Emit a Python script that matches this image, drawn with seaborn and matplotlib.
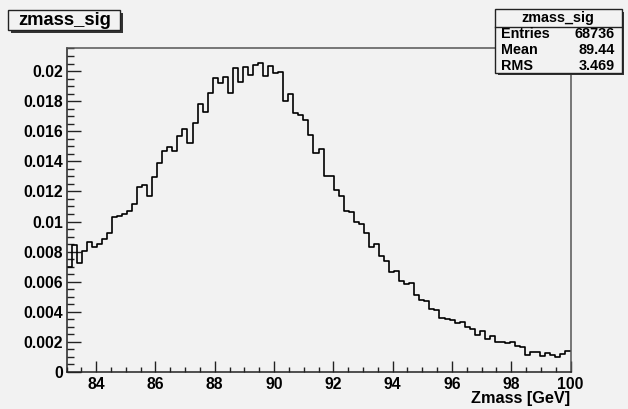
import numpy as np
import pandas as pd
import seaborn as sns
import matplotlib
matplotlib.use("Agg")
import matplotlib.pyplot as plt
from matplotlib.patches import Rectangle
from matplotlib.ticker import MultipleLocator

# Normalised Z-mass signal histogram, 100 bins from 83 to 100 GeV
mass_lo = 83.0
mass_hi = 100.0
bin_content = [
    0.00700, 0.00844, 0.00727, 0.00805, 0.00866, 0.00831, 0.00849, 0.00883, 0.00921, 0.01028,
    0.01038, 0.01048, 0.01070, 0.01116, 0.01228, 0.01240, 0.01172, 0.01298, 0.01387, 0.01468,
    0.01493, 0.01468, 0.01566, 0.01615, 0.01520, 0.01654, 0.01780, 0.01730, 0.01852, 0.01951,
    0.01918, 0.01958, 0.01856, 0.02018, 0.01929, 0.02025, 0.01973, 0.02040, 0.02051, 0.01967,
    0.02033, 0.01985, 0.01995, 0.01800, 0.01845, 0.01721, 0.01708, 0.01674, 0.01575, 0.01456,
    0.01480, 0.01302, 0.01302, 0.01209, 0.01171, 0.01070, 0.01061, 0.00999, 0.00983, 0.00926,
    0.00833, 0.00850, 0.00771, 0.00740, 0.00662, 0.00673, 0.00602, 0.00584, 0.00589, 0.00512,
    0.00478, 0.00471, 0.00418, 0.00412, 0.00359, 0.00355, 0.00346, 0.00328, 0.00334, 0.00300,
    0.00288, 0.00246, 0.00272, 0.00217, 0.00241, 0.00201, 0.00197, 0.00190, 0.00201, 0.00175,
    0.00168, 0.00113, 0.00135, 0.00131, 0.00106, 0.00124, 0.00113, 0.00102, 0.00120, 0.00140,
]

x_ticks = [84, 86, 88, 90, 92, 94, 96, 98, 100]
x_tick_labels = ["84", "86", "88", "90", "92", "94", "96", "98", "100"]
y_ticks = [0, 0.002, 0.004, 0.006, 0.008, 0.01, 0.012, 0.014, 0.016, 0.018, 0.02]
y_tick_labels = ["0", "0.002", "0.004", "0.006", "0.008", "0.01", "0.012",
                 "0.014", "0.016", "0.018", "0.02"]

hist_title = "zmass_sig"
x_title = "Zmass [GeV]"
stat_names = ["Entries", "Mean", "RMS"]
stat_values = ["68736", "89.44", "3.469"]

W, H = 628, 409
BG = "#f2f2f2"

plt.rcParams["font.family"] = ["Liberation Sans", "DejaVu Sans"]
plt.rcParams["font.weight"] = "bold"

n_bins = len(bin_content)
edges = np.linspace(mass_lo, mass_hi, n_bins + 1)
centers = 0.5 * (edges[:-1] + edges[1:])
df = pd.DataFrame({"mass": centers, "w": bin_content})

fig = plt.figure(figsize=(W / 100, H / 100), dpi=100, facecolor=BG)


def fx(px):
    return px / W


def fy(py):
    return 1 - py / H


ax = fig.add_axes([fx(66.5), fy(372), fx(570.5) - fx(66.5), fy(47.7) - fy(372)])
ax.set_facecolor(BG)

sns.histplot(data=df, x="mass", weights="w", bins=n_bins,
             binrange=(mass_lo, mass_hi), element="step",
             fill=False, color="black", linewidth=1.2, ax=ax)

ax.set_xlim(mass_lo, mass_hi)
ax.set_ylim(0, 0.02155)
ax.set_ylabel("")

ax.set_xticks(x_ticks)
ax.set_xticklabels(x_tick_labels)
ax.set_yticks(y_ticks)
ax.set_yticklabels(y_tick_labels)
ax.xaxis.set_minor_locator(MultipleLocator(0.5))
ax.yaxis.set_minor_locator(MultipleLocator(0.0005))

ax.tick_params(axis="x", which="major", direction="in", length=8, width=1.0,
               color="#222222", labelsize=11.3, pad=3.5)
ax.tick_params(axis="x", which="minor", direction="in", length=3.8, width=1.0,
               color="#222222")
ax.tick_params(axis="y", which="major", direction="in", length=10.3, width=1.0,
               color="#222222", labelsize=11.3, pad=2.5)
ax.tick_params(axis="y", which="minor", direction="in", length=5.3, width=1.0,
               color="#222222")

for side in ("left", "bottom"):
    ax.spines[side].set_color("#222222")
    ax.spines[side].set_linewidth(1.1)
for side in ("top", "right"):
    ax.spines[side].set_color("#555555")
    ax.spines[side].set_linewidth(1.1)

ax.set_xlabel(x_title, fontsize=11.7, fontweight="bold", ha="right")
ax.xaxis.set_label_coords(1.0, -0.058)
ax.xaxis.label.set_va("top")


def boxed(x0, y0, x1, y1, shadow=2.5):
    # shadowed pave: dark offset block underneath, light box with black border on top
    fig.add_artist(Rectangle((fx(x0 + shadow), fy(y1 + shadow)),
                             fx(x1 - x0), fy(y0) - fy(y1),
                             transform=fig.transFigure, facecolor="#333333",
                             edgecolor="none", zorder=5))
    fig.add_artist(Rectangle((fx(x0), fy(y1)), fx(x1 - x0), fy(y0) - fy(y1),
                             transform=fig.transFigure, facecolor=BG,
                             edgecolor="#222222", linewidth=1.0, zorder=6))


# histogram title pave
boxed(8.3, 10, 120, 30)
fig.text(fx(64.5), fy(20.5), hist_title, ha="center", va="center",
         fontsize=13.2, fontweight="bold", zorder=7)

# statistics pave
boxed(495, 9.3, 621.5, 72.5)
fig.add_artist(plt.Line2D([fx(495), fx(621.5)], [fy(26.7), fy(26.7)],
                          transform=fig.transFigure, color="#222222",
                          linewidth=1.0, zorder=7))
fig.text(fx(558), fy(18), hist_title, ha="center", va="center",
         fontsize=10.4, fontweight="bold", zorder=7)
for i, (name, val) in enumerate(zip(stat_names, stat_values)):
    yc = 34 + i * 15.8
    fig.text(fx(500.5), fy(yc), name, ha="left", va="center",
             fontsize=10.4, fontweight="bold", zorder=7)
    fig.text(fx(615), fy(yc), val, ha="right", va="center",
             fontsize=10.4, fontweight="bold", zorder=7)

fig.savefig("out.png", dpi=100, facecolor=BG)
